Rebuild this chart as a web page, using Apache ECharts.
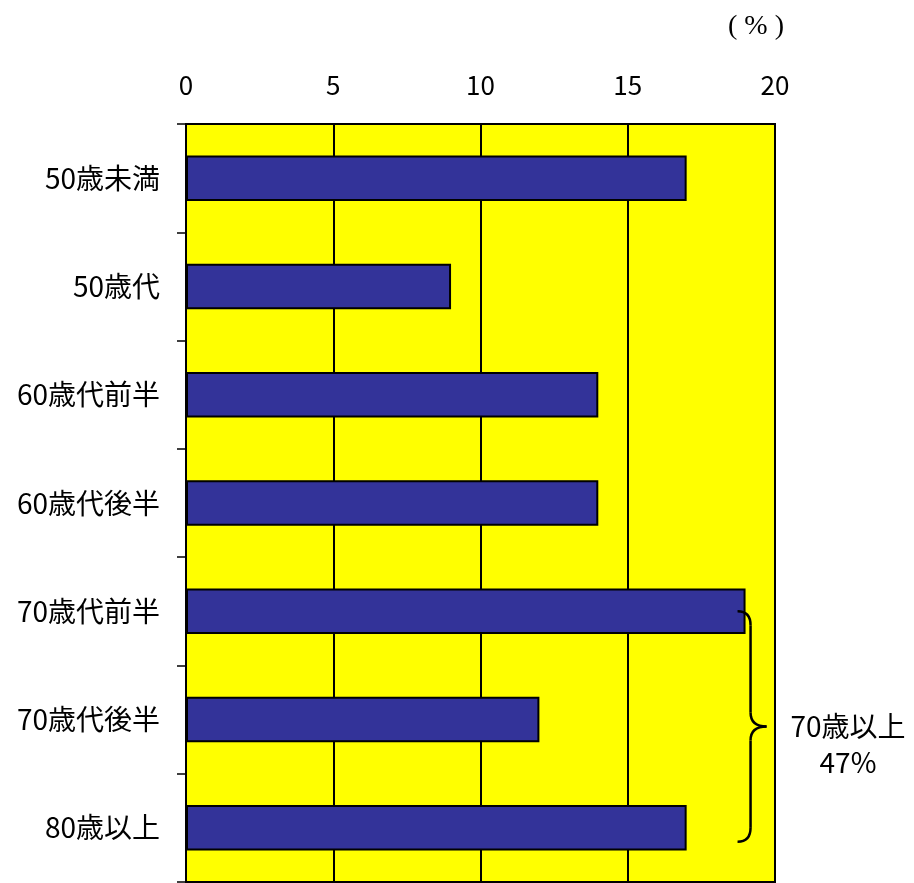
<!DOCTYPE html>
<html>
<head>
<meta charset="utf-8">
<script src="https://cdn.jsdelivr.net/npm/echarts@6/dist/echarts.min.js"></script>
<style>
html,body{margin:0;padding:0;background:#fff;}
#chart{width:914px;height:883px;}
</style>
</head>
<body>
<div id="chart"></div>
<script>
const categories = ['50歳未満', '50歳代', '60歳代前半', '60歳代後半', '70歳代前半', '70歳代後半', '80歳以上'];
const values = [17, 9, 14, 14, 19, 12, 17];
const xTicks = { min: 0, max: 20, interval: 5 };
const unitLabel = '( % )';
const braceLabel = ['70歳以上', '47%'];
const braceFrom = '70歳代前半';
const braceTo = '80歳以上';

const FONT = '"Noto Sans CJK JP", "Noto Sans", sans-serif';
const chart = echarts.init(document.getElementById('chart'));

const option = {
  animation: false,
  backgroundColor: '#ffffff',
  grid: {
    left: 186, right: 139, top: 124, bottom: 1,
    show: true, backgroundColor: '#ffff00', borderColor: '#000', borderWidth: 2
  },
  xAxis: {
    type: 'value', position: 'top',
    min: xTicks.min, max: xTicks.max, interval: xTicks.interval,
    axisLine: { show: false },
    axisTick: { show: false },
    axisLabel: { color: '#000', fontSize: 26, fontFamily: FONT, margin: 26 },
    splitLine: { show: true, lineStyle: { color: '#000', width: 2 } }
  },
  yAxis: {
    type: 'category', inverse: true, data: categories,
    axisLine: { show: true, lineStyle: { color: '#000', width: 2 } },
    axisTick: { show: true, length: 9, lineStyle: { color: '#000', width: 1.5 } },
    axisLabel: { color: '#000', fontSize: 28, fontFamily: FONT, margin: 26 }
  },
  series: [{
    type: 'bar', data: values, barWidth: '42%',
    itemStyle: { color: '#333399', borderColor: '#000', borderWidth: 2 }
  }],
  graphic: []
};
chart.setOption(option);

function drawAnnotations() {
  const i0 = categories.indexOf(braceFrom);
  const i1 = categories.indexOf(braceTo);
  const top = chart.convertToPixel({ gridIndex: 0 }, [values[i0], i0]);
  const bot = chart.convertToPixel({ gridIndex: 0 }, [values[i0], i1]);
  const x0 = top[0] - 8, y0 = top[1], y1 = bot[1] + 14;
  const xm = x0 + 13, xp = x0 + 29, ym = (y0 + y1) / 2;
  const r = 14;
  const st = { stroke: '#000', lineWidth: 2.5, fill: 'none' };
  const rightEdge = chart.convertToPixel({ gridIndex: 0 }, [xTicks.max, 0])[0];
  chart.setOption({
    graphic: [
      { type: 'bezierCurve', shape: { x1: x0, y1: y0, cpx1: xm, cpy1: y0, x2: xm, y2: y0 + r }, style: st, z: 100 },
      { type: 'line', shape: { x1: xm, y1: y0 + r, x2: xm, y2: ym - r }, style: st, z: 100 },
      { type: 'bezierCurve', shape: { x1: xm, y1: ym - r, cpx1: xm, cpy1: ym, x2: xp, y2: ym }, style: st, z: 100 },
      { type: 'bezierCurve', shape: { x1: xp, y1: ym, cpx1: xm, cpy1: ym, x2: xm, y2: ym + r }, style: st, z: 100 },
      { type: 'line', shape: { x1: xm, y1: ym + r, x2: xm, y2: y1 - r }, style: st, z: 100 },
      { type: 'bezierCurve', shape: { x1: xm, y1: y1 - r, cpx1: xm, cpy1: y1, x2: x0, y2: y1 }, style: st, z: 100 },
      { type: 'text', x: rightEdge + 73, y: ym, style: { text: braceLabel[0], font: '28px ' + FONT, fill: '#000', textAlign: 'center', textVerticalAlign: 'middle' }, z: 100 },
      { type: 'text', x: rightEdge + 73, y: ym + 36, style: { text: braceLabel[1], font: '28px ' + FONT, fill: '#000', textAlign: 'center', textVerticalAlign: 'middle' }, z: 100 },
      { type: 'text', x: rightEdge - 19, y: 27, style: { text: unitLabel, font: '28px "Liberation Serif", "DejaVu Serif", serif', fill: '#000', textAlign: 'center', textVerticalAlign: 'middle' }, z: 100 }
    ]
  });
}
drawAnnotations();
</script>
</body>
</html>
